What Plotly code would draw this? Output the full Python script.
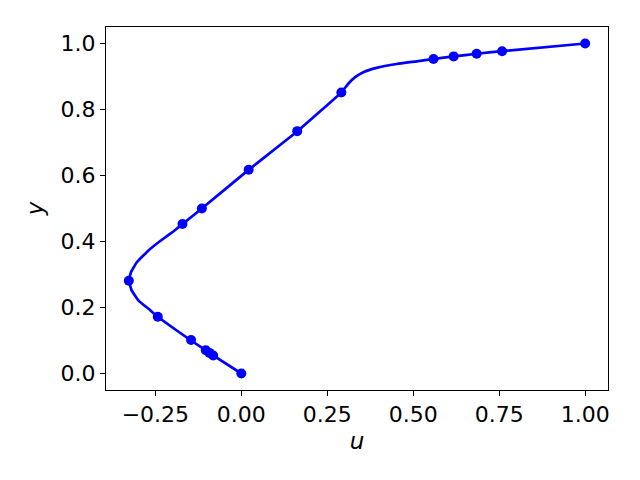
import plotly.graph_objects as go

# Reference points (markers)
ref_y = [1.0000, 0.9766, 0.9688, 0.9609, 0.9531, 0.8516, 0.7344, 0.6172, 0.5000,
         0.4531, 0.2813, 0.1719, 0.1016, 0.0703, 0.0625, 0.0547, 0.0000]
ref_u = [1.00000, 0.75837, 0.68439, 0.61756, 0.55892, 0.29093, 0.16256, 0.02135,
         -0.11477, -0.17119, -0.32726, -0.24299, -0.14612, -0.10338, -0.09266,
         -0.08186, 0.00000]

# Computed profile (line)
line_y = [0.0, 0.055, 0.10, 0.172, 0.196, 0.221, 0.252, 0.281, 0.307, 0.337,
          0.373, 0.403, 0.431, 0.453, 0.50, 0.617, 0.734, 0.852, 0.878, 0.898,
          0.913, 0.926, 0.938, 0.946, 0.953, 0.961, 0.969, 0.977, 1.0]
line_u = [0.0, -0.082, -0.146, -0.243, -0.270, -0.299, -0.319, -0.327, -0.321,
          -0.304, -0.270, -0.234, -0.197, -0.171, -0.115, 0.021, 0.163, 0.291,
          0.311, 0.331, 0.355, 0.393, 0.452, 0.510, 0.559, 0.618, 0.684, 0.758, 1.0]

fig = go.Figure()
fig.add_trace(go.Scatter(x=line_u, y=line_y, mode="lines",
                         line=dict(color="#0000ff", width=2.7, shape="spline", smoothing=0.3),
                         showlegend=False))
fig.add_trace(go.Scatter(x=ref_u, y=ref_y, mode="markers",
                         marker=dict(color="#0000ff", size=10),
                         showlegend=False))

axis_common = dict(showline=True, linecolor="black", linewidth=1, mirror=True,
                   ticks="outside", ticklen=5, tickcolor="black", showgrid=False,
                   zeroline=False, automargin=False,
                   tickfont=dict(size=22, color="black"))
fig.update_layout(
    width=640, height=480,
    margin=dict(l=106, r=32, t=27, b=90),
    paper_bgcolor="white", plot_bgcolor="white",
    font=dict(family="DejaVu Sans", color="black"),
    xaxis=dict(range=[-0.3936, 1.0664], tickvals=[-0.25, 0, 0.25, 0.5, 0.75, 1.0],
               ticktext=["−0.25", "0.00", "0.25", "0.50", "0.75", "1.00"],
               title=dict(text="<i>u</i>", font=dict(size=23), standoff=6), **axis_common),
    yaxis=dict(range=[-0.05, 1.05], tickvals=[0, 0.2, 0.4, 0.6, 0.8, 1.0],
               ticktext=["0.0", "0.2", "0.4", "0.6", "0.8", "1.0"],
               title=dict(text="<i>y</i>", font=dict(size=23), standoff=10), **axis_common),
)
fig.write_html("out.html", config={"displayModeBar": False},
               post_script="document.body.style.margin='0';document.body.style.overflow='hidden';")
